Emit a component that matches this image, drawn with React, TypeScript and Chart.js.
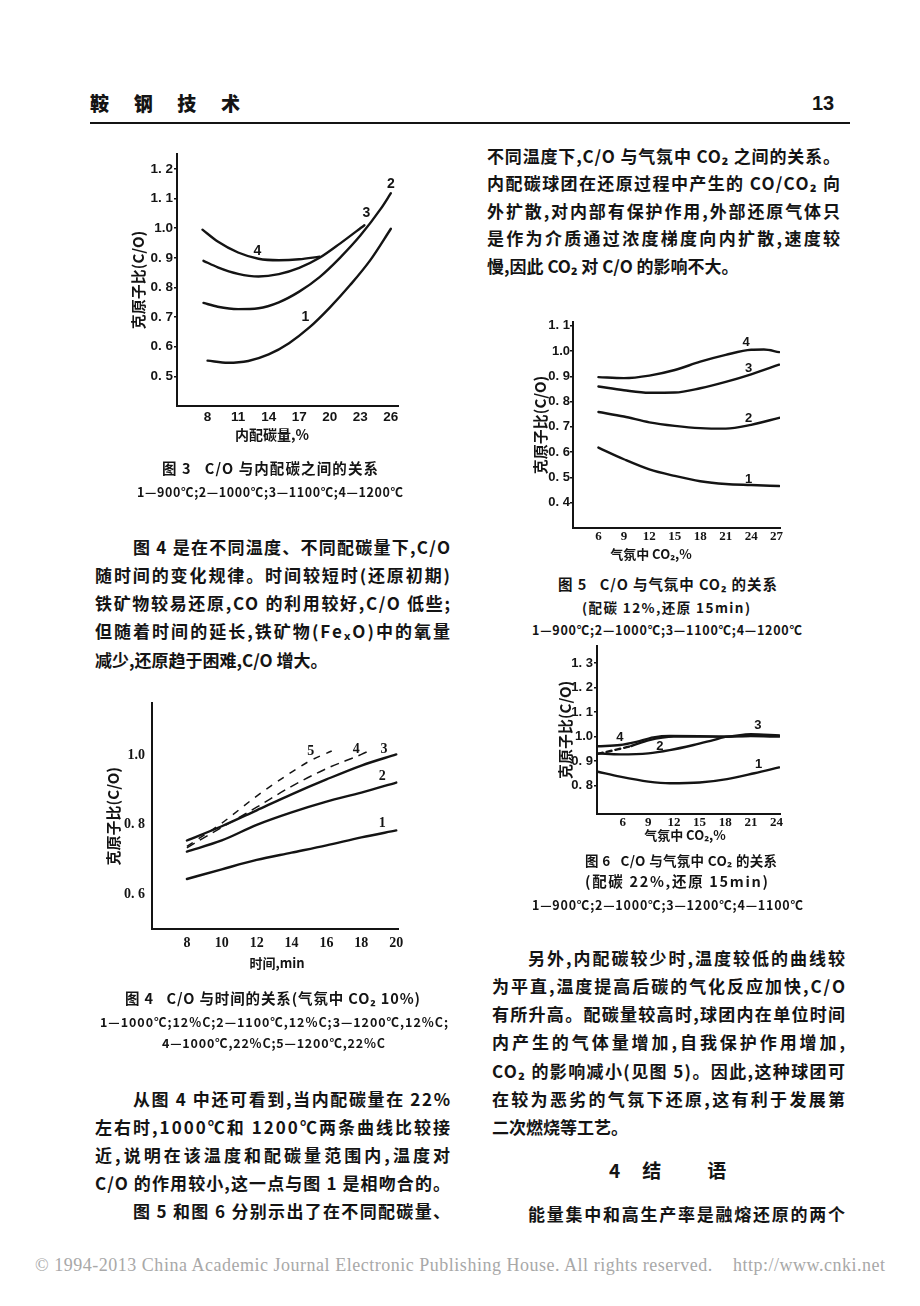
import React, { useEffect, useLayoutEffect, useRef } from 'react';
import { Chart, registerables } from 'chart.js';

Chart.register(...registerables);

const CJK = '"Noto Sans CJK SC", "Noto Sans", sans-serif';
const SANS = '"Liberation Sans", Arial, sans-serif';
const SERIF = '"Liberation Serif", "Times New Roman", serif';
const INK = '#141414';

// ---------- Figure 3 : C/O vs internal carbon (%) ----------
const FIG3_X_TICKS = [8, 11, 14, 17, 20, 23, 26];
const FIG3_X_LABELS = ['8', '11', '14', '17', '20', '23', '26'];
const FIG3_Y_TICKS = [0.5, 0.6, 0.7, 0.8, 0.9, 1.0, 1.1, 1.2];
const FIG3_Y_LABELS = ['0. 5', '0. 6', '0. 7', '0. 8', '0. 9', '1.0', '1. 1', '1. 2'];
const FIG3_900_X = [8, 10, 12, 14, 16, 18, 20, 22, 24, 26];
const FIG3_900_Y = [0.553, 0.546, 0.552, 0.574, 0.612, 0.665, 0.732, 0.808, 0.893, 0.998];
const FIG3_1000_X = [7.6, 9, 11, 13, 15, 17, 19, 21, 23, 25, 26];
const FIG3_1000_Y = [0.748, 0.735, 0.727, 0.73, 0.75, 0.786, 0.835, 0.9, 0.975, 1.065, 1.118];
const FIG3_1100_X = [7.6, 9, 11, 13, 15, 17, 19, 21, 23.4];
const FIG3_1100_Y = [0.89, 0.868, 0.846, 0.837, 0.845, 0.866, 0.9, 0.948, 1.01];
const FIG3_1200_X = [7.5, 9, 11, 13, 15, 17, 19];
const FIG3_1200_Y = [0.995, 0.955, 0.918, 0.897, 0.892, 0.895, 0.904];
const FIG3_TAGS = ['1', '2', '3', '4'];
const FIG3_TAG_X = [17.6, 26, 23.6, 12.9];
const FIG3_TAG_Y = [0.699, 1.148, 1.051, 0.923];

// ---------- Figure 4 : C/O vs time (min) ----------
const FIG4_X_TICKS = [8, 10, 12, 14, 16, 18, 20];
const FIG4_X_LABELS = ['8', '10', '12', '14', '16', '18', '20'];
const FIG4_Y_TICKS = [0.6, 0.8, 1.0];
const FIG4_Y_LABELS = ['0. 6', '0. 8', '1.0'];
const FIG4_TIME = [8, 10, 12, 14, 16, 18, 20];
const FIG4_S1_Y = [0.644, 0.672, 0.699, 0.72, 0.741, 0.764, 0.784];
const FIG4_S2_Y = [0.723, 0.755, 0.8, 0.836, 0.867, 0.893, 0.922];
const FIG4_S3_Y = [0.755, 0.796, 0.842, 0.888, 0.931, 0.971, 1.003];
const FIG4_S4_X = [8, 10, 12, 14, 16, 18, 18.6];
const FIG4_S4_Y = [0.734, 0.793, 0.851, 0.911, 0.962, 1.003, 1.017];
const FIG4_S5_X = [8, 10, 12, 14, 15, 16.3];
const FIG4_S5_Y = [0.738, 0.805, 0.883, 0.952, 0.983, 1.013];
const FIG4_TAGS = ['1', '2', '3', '4', '5'];
const FIG4_TAG_X = [19.2, 19.2, 19.3, 17.7, 15.1];
const FIG4_TAG_Y = [0.805, 0.939, 1.017, 1.017, 1.012];

// ---------- Figure 5 : C/O vs CO2 (carbon 12%) ----------
const FIG5_X_TICKS = [6, 9, 12, 15, 18, 21, 24, 27];
const FIG5_X_LABELS = ['6', '9', '12', '15', '18', '21', '24', '27'];
const FIG5_Y_TICKS = [0.4, 0.5, 0.6, 0.7, 0.8, 0.9, 1.0, 1.1];
const FIG5_Y_LABELS = ['0. 4', '0. 5', '0. 6', '0. 7', '0. 8', '0. 9', '1.0', '1. 1'];
const FIG5_CO2 = [6, 9, 12, 15, 18, 21, 24, 27.3];
const FIG5_900_Y = [0.618, 0.572, 0.532, 0.506, 0.485, 0.474, 0.47, 0.466];
const FIG5_1000_Y = [0.759, 0.741, 0.718, 0.704, 0.695, 0.693, 0.708, 0.736];
const FIG5_1100_Y = [0.86, 0.845, 0.835, 0.836, 0.853, 0.878, 0.908, 0.946];
const FIG5_1200_X = [6, 9, 12, 15, 18, 21, 24, 25.5, 27.3];
const FIG5_1200_Y = [0.897, 0.893, 0.903, 0.925, 0.958, 0.985, 1.005, 1.006, 0.996];
const FIG5_TAGS = ['1', '2', '3', '4'];
const FIG5_TAG_X = [23.7, 23.7, 23.7, 23.4];
const FIG5_TAG_Y = [0.491, 0.735, 0.932, 1.033];

// ---------- Figure 6 : C/O vs CO2 (carbon 22%) ----------
const FIG6_X_TICKS = [6, 9, 12, 15, 18, 21, 24];
const FIG6_X_LABELS = ['6', '9', '12', '15', '18', '21', '24'];
const FIG6_Y_TICKS = [0.8, 0.9, 1.0, 1.1, 1.2, 1.3];
const FIG6_Y_LABELS = ['0. 8', '0. 9', '1.0', '1. 1', '1. 2', '1. 3'];
const FIG6_900_X = [3.1, 5.7, 9, 11.5, 15, 18.2, 21.4, 24.3];
const FIG6_900_Y = [0.857, 0.837, 0.817, 0.81, 0.813, 0.827, 0.851, 0.875];
const FIG6_1000_X = [3.1, 5.7, 9, 11.5, 14.3, 16.6, 18.2, 21, 24.3];
const FIG6_1000_Y = [0.932, 0.928, 0.932, 0.945, 0.966, 0.986, 1.0, 1.003, 1.003];
const FIG6_1200_X = [3.1, 5, 7, 9, 12, 15, 18, 21, 24.3];
const FIG6_1200_Y = [0.93, 0.945, 0.962, 0.985, 1.0, 1.0, 1.0, 1.01, 1.005];
const FIG6_1100_X = [3.1, 5.7, 7.6, 9.6, 11.5, 15, 18, 21, 24.3];
const FIG6_1100_Y = [0.961, 0.966, 0.979, 0.997, 1.003, 1.002, 1.0, 1.002, 1.0];
const FIG6_TAGS = ['1', '2', '3', '4'];
const FIG6_TAG_X = [21.9, 10.35, 21.8, 5.67];
const FIG6_TAG_Y = [0.885, 0.961, 1.047, 0.997];

// ---------- page text ----------
const LEFT_A = [
  '图 4 是在不同温度、不同配碳量下,C/O',
  '随时间的变化规律。时间较短时(还原初期)',
  '铁矿物较易还原,CO 的利用较好,C/O 低些;',
  '但随着时间的延长,铁矿物(FeₓO)中的氧量',
  '减少,还原趋于困难,C/O 增大。',
];
const LEFT_B = [
  '从图 4 中还可看到,当内配碳量在 22%',
  '左右时,1000℃和 1200℃两条曲线比较接',
  '近,说明在该温度和配碳量范围内,温度对',
  'C/O 的作用较小,这一点与图 1 是相吻合的。',
  '图 5 和图 6 分别示出了在不同配碳量、',
];
const RIGHT_A = [
  '不同温度下,C/O 与气氛中 CO₂ 之间的关系。',
  '内配碳球团在还原过程中产生的 CO/CO₂ 向',
  '外扩散,对内部有保护作用,外部还原气体只',
  '是作为介质通过浓度梯度向内扩散,速度较',
  '慢,因此 CO₂ 对 C/O 的影响不大。',
];
const RIGHT_B = [
  '另外,内配碳较少时,温度较低的曲线较',
  '为平直,温度提高后碳的气化反应加快,C/O',
  '有所升高。配碳量较高时,球团内在单位时间',
  '内产生的气体量增加,自我保护作用增加,',
  'CO₂ 的影响减小(见图 5)。因此,这种球团可',
  '在较为恶劣的气氛下还原,这有利于发展第',
  '二次燃烧等工艺。',
];

const pts = (xs: number[], ys: number[]) => xs.map((x, i) => ({ x, y: ys[i] }));

const tagPlugin = {
  id: 'curveTags',
  afterDatasetsDraw(chart: any, _a: any, opts: any) {
    if (!opts || !opts.texts) return;
    const { ctx, scales } = chart;
    ctx.save();
    ctx.font = opts.font;
    ctx.fillStyle = INK;
    ctx.textAlign = 'center';
    ctx.textBaseline = 'middle';
    opts.texts.forEach((t: string, i: number) => {
      ctx.fillText(t, scales.x.getPixelForValue(opts.xs[i]), scales.y.getPixelForValue(opts.ys[i]));
    });
    ctx.restore();
  },
};

type Series = { x: number[]; y: number[]; width?: number; dash?: number[]; dashSegments?: number };
type Fig = {
  series: Series[];
  xMin: number; xMax: number; xTicks: number[]; xLabels: string[];
  yMin: number; yMax: number; yTicks: number[]; yLabels: string[];
  yAxisW: number; xAxisH: number; padTop: number; padRight: number;
  yTitlePad: number; yTickLen: number; yTickPad: number; xTickPad: number;
  xFont: any; yFont: any;
  tags: string[]; tagX: number[]; tagY: number[]; tagFont: string;
};

function buildConfig(f: Fig): any {
  return {
    type: 'line',
    data: {
      datasets: f.series.map((s) => ({
        data: pts(s.x, s.y),
        borderColor: INK,
        borderWidth: s.width ?? 2.4,
        borderDash: s.dash ?? [],
        borderCapStyle: s.dash ? 'butt' : 'round',
        pointRadius: 0,
        pointHoverRadius: 0,
        cubicInterpolationMode: 'monotone',
        fill: false,
        segment: s.dashSegments
          ? { borderDash: (c: any) => (c.p0DataIndex < (s.dashSegments as number) ? [5, 4] : []) }
          : undefined,
      })),
    },
    options: {
      responsive: false,
      animation: false,
      devicePixelRatio: 1,
      events: [],
      layout: { padding: { top: f.padTop, right: f.padRight, left: 0, bottom: 0 } },
      plugins: {
        legend: { display: false },
        tooltip: { enabled: false },
        curveTags: { texts: f.tags, xs: f.tagX, ys: f.tagY, font: f.tagFont },
      },
      scales: {
        x: {
          type: 'linear',
          min: f.xMin,
          max: f.xMax,
          afterBuildTicks: (s: any) => { s.ticks = f.xTicks.map((v) => ({ value: v })); },
          afterFit: (s: any) => { s.height = f.xAxisH; },
          ticks: {
            autoSkip: false, maxRotation: 0, minRotation: 0, padding: f.xTickPad,
            color: INK, font: f.xFont,
            callback: (_v: any, i: number) => f.xLabels[i],
          },
          grid: { display: false, drawTicks: false, drawOnChartArea: false },
          border: { display: true, color: INK, width: 2 },
        },
        y: {
          type: 'linear',
          min: f.yMin,
          max: f.yMax,
          afterBuildTicks: (s: any) => { s.ticks = f.yTicks.map((v) => ({ value: v })); },
          afterFit: (s: any) => { s.width = f.yAxisW; },
          ticks: {
            autoSkip: false, padding: f.yTickPad, color: INK, font: f.yFont,
            callback: (_v: any, i: number) => f.yLabels[i],
          },
          grid: {
            display: f.yTickLen > 0, drawOnChartArea: false, drawTicks: f.yTickLen > 0,
            tickLength: f.yTickLen, color: INK, lineWidth: 1.5,
          },
          border: { display: true, color: INK, width: 2 },
          title: {
            display: true, text: '克原子比(C/O)', color: INK,
            font: { family: CJK, size: 15, weight: 'bold' },
            padding: { top: f.yTitlePad, bottom: 0 },
          },
        },
      },
    },
    plugins: [tagPlugin],
  };
}

const FIG3: Fig = {
  series: [
    { x: FIG3_900_X, y: FIG3_900_Y },
    { x: FIG3_1000_X, y: FIG3_1000_Y },
    { x: FIG3_1100_X, y: FIG3_1100_Y },
    { x: FIG3_1200_X, y: FIG3_1200_Y },
  ],
  xMin: 5, xMax: 26.7, xTicks: FIG3_X_TICKS, xLabels: FIG3_X_LABELS,
  yMin: 0.4, yMax: 1.25, yTicks: FIG3_Y_TICKS, yLabels: FIG3_Y_LABELS,
  yAxisW: 82, xAxisH: 39, padTop: 8, padRight: 12,
  yTitlePad: 34, yTickLen: 3, yTickPad: 1, xTickPad: 3,
  xFont: { family: SANS, size: 13.5, weight: 'bold' },
  yFont: { family: SANS, size: 13.5, weight: 'bold' },
  tags: FIG3_TAGS, tagX: FIG3_TAG_X, tagY: FIG3_TAG_Y, tagFont: `bold 14px ${SANS}`,
};

const FIG4: Fig = {
  series: [
    { x: FIG4_TIME, y: FIG4_S1_Y },
    { x: FIG4_TIME, y: FIG4_S2_Y },
    { x: FIG4_TIME, y: FIG4_S3_Y },
    { x: FIG4_S4_X, y: FIG4_S4_Y, width: 1.5, dash: [9, 6] },
    { x: FIG4_S5_X, y: FIG4_S5_Y, width: 1.5, dash: [7, 7] },
  ],
  xMin: 6, xMax: 20.1, xTicks: FIG4_X_TICKS, xLabels: FIG4_X_LABELS,
  yMin: 0.5, yMax: 1.15, yTicks: FIG4_Y_TICKS, yLabels: FIG4_Y_LABELS,
  yAxisW: 57, xAxisH: 29, padTop: 7, padRight: 12,
  yTitlePad: 9, yTickLen: 0, yTickPad: 7, xTickPad: 6,
  xFont: { family: SERIF, size: 14, weight: 'bold' },
  yFont: { family: SERIF, size: 14, weight: 'bold' },
  tags: FIG4_TAGS, tagX: FIG4_TAG_X, tagY: FIG4_TAG_Y, tagFont: `bold 14px ${SERIF}`,
};

const FIG5: Fig = {
  series: [
    { x: FIG5_CO2, y: FIG5_900_Y },
    { x: FIG5_CO2, y: FIG5_1000_Y },
    { x: FIG5_CO2, y: FIG5_1100_Y },
    { x: FIG5_1200_X, y: FIG5_1200_Y },
  ],
  xMin: 3, xMax: 27.4, xTicks: FIG5_X_TICKS, xLabels: FIG5_X_LABELS,
  yMin: 0.3, yMax: 1.115, yTicks: FIG5_Y_TICKS, yLabels: FIG5_Y_LABELS,
  yAxisW: 53, xAxisH: 19, padTop: 10, padRight: 15,
  yTitlePad: 11, yTickLen: 3, yTickPad: 0, xTickPad: 1,
  xFont: { family: SERIF, size: 13, weight: 'bold' },
  yFont: { family: SANS, size: 13, weight: 'bold' },
  tags: FIG5_TAGS, tagX: FIG5_TAG_X, tagY: FIG5_TAG_Y, tagFont: `bold 13px ${SANS}`,
};

const FIG6: Fig = {
  series: [
    { x: FIG6_900_X, y: FIG6_900_Y },
    { x: FIG6_1000_X, y: FIG6_1000_Y },
    { x: FIG6_1200_X, y: FIG6_1200_Y, dashSegments: 2 },
    { x: FIG6_1100_X, y: FIG6_1100_Y },
  ],
  xMin: 3, xMax: 24.4, xTicks: FIG6_X_TICKS, xLabels: FIG6_X_LABELS,
  yMin: 0.685, yMax: 1.37, yTicks: FIG6_Y_TICKS, yLabels: FIG6_Y_LABELS,
  yAxisW: 67, xAxisH: 21, padTop: 8, padRight: 15,
  yTitlePad: 26, yTickLen: 3, yTickPad: 1, xTickPad: 1,
  xFont: { family: SERIF, size: 13, weight: 'bold' },
  yFont: { family: SANS, size: 13, weight: 'bold' },
  tags: FIG6_TAGS, tagX: FIG6_TAG_X, tagY: FIG6_TAG_Y, tagFont: `bold 13px ${SANS}`,
};

function ChartBox({ left, top, width, height, fig }: { left: number; top: number; width: number; height: number; fig: Fig }) {
  const ref = useRef<HTMLCanvasElement>(null);
  useEffect(() => {
    const chart = new Chart(ref.current as HTMLCanvasElement, buildConfig(fig));
    return () => chart.destroy();
  }, [fig]);
  return (
    <div style={{ position: 'absolute', left, top, width, height }}>
      <canvas ref={ref} width={width} height={height} style={{ width, height, display: 'block' }} />
    </div>
  );
}

function FitText({ x, y, w, size, text, weight = 700, family = CJK, color = INK }: {
  x: number; y: number; w?: number; size: number; text: string; weight?: number; family?: string; color?: string;
}) {
  const ref = useRef<HTMLSpanElement>(null);
  useLayoutEffect(() => {
    const el = ref.current;
    if (!el || w === undefined) return;
    el.style.letterSpacing = '0px';
    const nat = el.getBoundingClientRect().width;
    const n = Array.from(text).length;
    if (n > 1) el.style.letterSpacing = `${(w - nat) / (n - 1)}px`;
  }, [text, w]);
  const lh = Math.round(size * 1.6);
  return (
    <div style={{ position: 'absolute', left: x, top: y - lh / 2, height: lh, lineHeight: `${lh}px`, whiteSpace: 'pre', fontSize: size, fontWeight: weight, fontFamily: family, color }}>
      <span ref={ref}>{text}</span>
    </div>
  );
}

function CenterText({ cx, y, size, text, weight = 700, family = CJK }: { cx: number; y: number; size: number; text: string; weight?: number; family?: string }) {
  const lh = Math.round(size * 1.6);
  return (
    <div style={{ position: 'absolute', left: cx - 150, width: 300, top: y - lh / 2, height: lh, lineHeight: `${lh}px`, textAlign: 'center', whiteSpace: 'pre', fontSize: size, fontWeight: weight, fontFamily: family, color: INK }}>
      {text}
    </div>
  );
}

function Para({ x, w, y0, step, lines, indent, indentRows, naturalRows }: {
  x: number; w: number; y0: number; step: number; lines: string[]; indent: number; indentRows: number[]; naturalRows: number[];
}) {
  return (
    <>
      {lines.map((t, i) => {
        const ind = indentRows.includes(i) ? indent : 0;
        const nat = naturalRows.includes(i);
        return <FitText key={i} x={x + ind} y={y0 + i * step} w={nat ? undefined : w - ind} size={17} text={t} />;
      })}
    </>
  );
}

export default function App() {
  return (
    <div style={{ position: 'absolute', left: 0, top: 0, width: 920, height: 1306, background: '#fff', overflow: 'hidden', fontFamily: CJK, color: INK }}>
      {/* running head */}
      <FitText x={90} y={103} w={150} size={19} weight={900} text="鞍 钢 技 术" />
      <FitText x={812} y={103} size={20} weight={700} family={'"Liberation Sans Narrow", "Liberation Sans", sans-serif'} text="13" />
      <div style={{ position: 'absolute', left: 90, top: 122, width: 760, height: 2, background: INK }} />

      {/* Figure 3 */}
      <ChartBox left={95} top={145} width={315} height={300} fig={FIG3} />
      <CenterText cx={272} y={434} size={14} text="内配碳量,%" />
      <FitText x={162} y={467} w={216} size={14.5} text="图 3   C/O 与内配碳之间的关系" />
      <FitText x={137} y={492} w={266} size={12.5} text="1—900℃;2—1000℃;3—1100℃;4—1200℃" />

      <Para x={95} w={355} y0={546} step={28.3} lines={LEFT_A} indent={38} indentRows={[0]} naturalRows={[4]} />

      {/* Figure 4 */}
      <ChartBox left={95} top={688} width={315} height={270} fig={FIG4} />
      <CenterText cx={277} y={962} size={13} text="时间,min" />
      <FitText x={125} y={997} w={295} size={14.5} text="图 4   C/O 与时间的关系(气氛中 CO₂ 10%)" />
      <FitText x={100} y={1022} w={348} size={12.5} text="1—1000℃;12%C;2—1100℃,12%C;3—1200℃,12%C;" />
      <FitText x={162} y={1043} w={223} size={12.5} text="4—1000℃,22%C;5—1200℃,22%C" />

      <Para x={95} w={355} y0={1098} step={28.1} lines={LEFT_B} indent={38} indentRows={[0, 4]} naturalRows={[]} />

      {/* right column */}
      <Para x={487} w={353} y0={155} step={27.5} lines={RIGHT_A} indent={36} indentRows={[]} naturalRows={[4]} />

      {/* Figure 5 */}
      <ChartBox left={520} top={312} width={275} height={235} fig={FIG5} />
      <CenterText cx={651} y={553} size={13} text="气氛中 CO₂,%" />
      <FitText x={558} y={583} w={219} size={14.5} text="图 5   C/O 与气氛中 CO₂ 的关系" />
      <FitText x={582} y={607} w={168} size={13.5} text="(配碳 12%,还原 15min)" />
      <FitText x={532} y={630} w={270} size={12.5} text="1—900℃;2—1000℃;3—1100℃;4—1200℃" />

      {/* Figure 6 */}
      <ChartBox left={530} top={637} width={265} height={198} fig={FIG6} />
      <CenterText cx={685} y={834} size={13} text="气氛中 CO₂,%" />
      <FitText x={585} y={860} w={192} size={13.5} text="图 6   C/O 与气氛中 CO₂ 的关系" />
      <FitText x={585} y={880} w={183} size={14.5} text="(配碳 22%,还原 15min)" />
      <FitText x={532} y={905} w={271} size={12.5} text="1—900℃;2—1000℃;3—1200℃;4—1100℃" />

      <Para x={492} w={353} y0={957} step={28.3} lines={RIGHT_B} indent={36} indentRows={[0]} naturalRows={[6]} />

      {/* section heading */}
      <div style={{ position: 'absolute', left: 609, top: 1170 - 16, height: 32, lineHeight: '32px', whiteSpace: 'pre', fontSize: 19, fontWeight: 700, fontFamily: CJK }}>
        <span>4</span>
        <span style={{ display: 'inline-block', width: 22 }}> </span>
        <span>结</span>
        <span style={{ display: 'inline-block', width: 46 }}> </span>
        <span>语</span>
      </div>
      <FitText x={528} y={1213} w={317} size={17} text="能量集中和高生产率是融熔还原的两个" />

      {/* footer */}
      <FitText x={35} y={1265} w={850} size={18} weight={400} family={SERIF} color="#a8a8a8"
        text="© 1994-2013 China Academic Journal Electronic Publishing House. All rights reserved.    http://www.cnki.net" />
    </div>
  );
}
